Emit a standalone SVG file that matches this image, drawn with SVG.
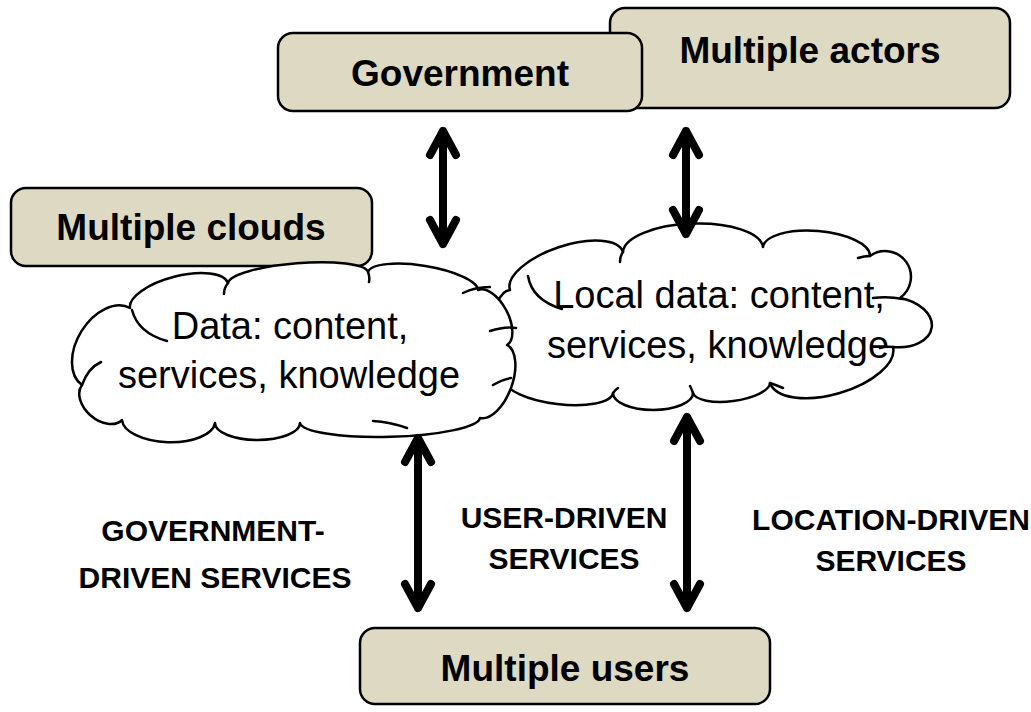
<svg xmlns="http://www.w3.org/2000/svg" width="1031" height="712" viewBox="0 0 1031 712">
<style>
.box{fill:#ddd9c3;stroke:#000;stroke-width:2.5}
.cloud{fill:#fff;stroke:#000;stroke-width:2.5;stroke-linejoin:round}
.inner{fill:none;stroke:#000;stroke-width:2.5;stroke-linecap:round}
.arr{fill:none;stroke:#000;stroke-width:8;stroke-linecap:round;stroke-linejoin:round}
.bl{font-family:"Liberation Sans",Arial,sans-serif;font-weight:bold;font-size:37px;fill:#000;text-anchor:middle}
.sl{font-family:"Liberation Sans",Arial,sans-serif;font-weight:bold;font-size:30px;fill:#000;text-anchor:middle}
.ct{font-family:"Liberation Sans",Arial,sans-serif;font-size:38px;fill:#000;text-anchor:middle}
</style>
<rect width="1031" height="712" fill="#fff"/>
<g id="multiple-actors">
<rect class="box" x="610" y="8" width="400" height="100" rx="15"/>
<text class="bl" x="810" y="63">Multiple actors</text>
</g>
<g id="government">
<rect class="box" x="278" y="33" width="364" height="78" rx="15"/>
<text class="bl" x="460" y="86">Government</text>
</g>
<g id="multiple-clouds">
<rect class="box" x="11" y="188" width="361" height="78" rx="15"/>
<text class="bl" x="191" y="240">Multiple clouds</text>
</g>
<g id="local-cloud">
<path class="cloud" d="M505 380 A45.1 18 -86.8 0 1 510 290 A59.6 25 -18.6 0 1 623 252 A70.1 27 -2 0 1 763 247 A53.7 21 4.8 0 1 870 256 A25.8 26 54.5 0 1 900 298 A24.8 38 98.1 0 1 893 347 A64.1 30 163.7 0 1 770 383 A38.9 14 172.6 0 1 693 393 A40 17 180 0 1 613 393 A54.4 18 186.9 0 1 505 380 Z"/>
<path class="inner" d="M528 276 Q532 300 562 309 M623 252 Q620 256 620 262 M870 256 Q864 256 858 258 M903 299 Q888 296 873 298 M893 347 Q886 346 880 348 M770 383 Q776 385 783 388 M693 393 Q692 390 690 386 M613 393 Q615 390 618 388"/>
<text class="ct" x="719" y="308">Local data: content,</text>
<text class="ct" x="718" y="358">services, knowledge</text>
</g>
<g id="data-cloud">
<path class="cloud" d="M82 385 A45.4 30 -58.1 0 1 130 308 A50.6 20 -14.3 0 1 228 283 A70.3 15 -4.5 0 1 368 272 A55.8 16 9.3 0 1 478 290 A31.1 16 62.2 0 1 507 345 A39 20 110.3 0 1 480 418 A90.1 17 178.4 0 1 300 423 A42.5 17 180 0 1 215 423 A46.6 22 181.8 0 1 122 420 A26.6 18 221.2 0 1 82 385 Z"/>
<path class="inner" d="M132 310 Q138 333 167 341 M82 385 Q88 368 101 362 M228 283 Q224 288 224 294 M368 272 Q370 277 369 282 M463 293 Q475 287 490 287 M490 331 Q505 326 516 328 M493 385 Q503 379 511 378 M373 421 Q390 422 407 428"/>
<text class="ct" x="290" y="339">Data: content,</text>
<text class="ct" x="289" y="388">services, knowledge</text>
</g>
<g id="multiple-users">
<rect class="box" x="360" y="628" width="410" height="76" rx="15"/>
<text class="bl" x="565" y="681">Multiple users</text>
</g>
<g id="labels">
<text class="sl" x="213" y="541">GOVERNMENT-</text>
<text class="sl" x="215" y="588">DRIVEN SERVICES</text>
<text class="sl" x="564" y="528">USER-DRIVEN</text>
<text class="sl" x="564" y="569">SERVICES</text>
<text class="sl" x="891" y="530">LOCATION-DRIVEN</text>
<text class="sl" x="891" y="571">SERVICES</text>
</g>
<g id="connectors">
<path class="arr" d="M443 131 V244 M430 155 L443 131 L456 155 M430 220 L443 244 L456 220"/>
<path class="arr" d="M686 131 V234 M673 155 L686 131 L699 155 M673 210 L686 234 L699 210"/>
<path class="arr" d="M418 438 V608 M405 462 L418 438 L431 462 M405 584 L418 608 L431 584"/>
<path class="arr" d="M687 417 V608 M674 441 L687 417 L700 441 M674 584 L687 608 L700 584"/>
</g>
</svg>
